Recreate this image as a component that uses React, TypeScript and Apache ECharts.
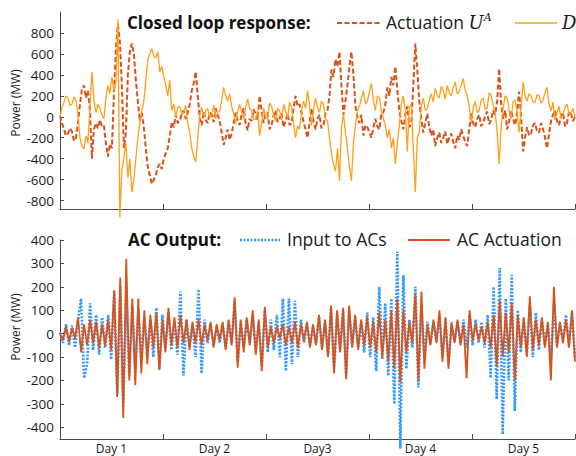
import React, { useEffect, useRef } from "react";
import * as echarts from "echarts";

// ---- data ----
const dayLabels = ["Day 1", "Day 2", "Day3", "Day 4", "Day 5"];
const dayLabelPos = [0.5, 1.5, 2.5, 3.5, 4.5];
const dayTicks = [1, 2, 3, 4, 5];
const topTicks = [-800, -600, -400, -200, 0, 200, 400, 600, 800];
const bottomTicks = [-400, -300, -200, -100, 0, 100, 200, 300, 400];

// Closed loop response (259 samples over 5 days)
const actuationUA = [
  10, -60, -120, -180, -160, -110, -140, -230, -200, -60,
  120, 260, 300, 180, 250, 60, -400, -120, -60, -110,
  -30, -90, -80, -250, -380, -260, -300, 200, 650, 880,
  720, 300, -300, -150, 400, 620, 700, 600, 350, 150,
  -40, 40, -100, -300, -480, -560, -640, -600, -560, -480,
  -450, -500, -400, -350, -300, -180, -50, -100, 20, -60,
  -40, 30, 60, -20, 40, 120, 250, 320, 430, 200,
  -20, -80, 50, -30, -60, 40, 20, -50, 80, 20,
  -40, -150, -270, -200, -120, -220, -160, -60, 40, -40,
  -80, 30, 80, -60, -130, -20, -40, 70, 30, -30,
  200, 60, -60, 30, 40, -120, -80, 10, 60, -50,
  -20, 40, -100, -40, 30, -80, -60, 80, 200, 100,
  120, 40, -50, -120, -200, -60, 80, -40, -120, -20,
  20, -110, -80, 30, 60, 200, 450, 380, 550, 480,
  620, 300, 20, 150, 300, 480, 620, 400, 100, 0,
  -60, 20, -180, -80, -100, -150, -200, -100, -20, -90,
  -120, 30, 40, 120, 280, 200, 380, 300, 480, 250,
  60, -40, -120, 20, 100, -100, -60, 300, 700, 450,
  150, -20, -150, -60, 30, -100, -180, -120, -280, -200,
  -150, -250, -200, -140, -260, -200, -160, -240, -300, -180,
  -220, -120, -180, -240, -280, -120, 40, -60, -100, -20,
  20, -90, -60, 10, 50, -70, -30, 60, 20, 150,
  460, 120, -20, 60, -120, -40, 60, -20, -80, 40,
  240, 0, -330, -200, -100, -180, -160, -80, -60, -140,
  -150, -60, -120, -200, -300, -160, -40, 20, 60, -40,
  -80, 10, 40, -90, -60, 50, 30, -40, 0,
];
const disturbanceD = [
  0, 90, 140, 200, 180, 110, 120, 190, 160, 20,
  -200, -280, -310, -180, -250, 100, 430, 150, 40, 120,
  80, 20, -20, 180, 300, 220, 380, 250, 330, 930,
  -960, -500, -400, -250, -580, -400, -720, -600, -400, -200,
  -50, 60, 150, 350, 550, 600, 650, 580, 560, 620,
  430, 480, 380, 300, 200, 350, 60, 120, 0, 90,
  100, 20, 40, 110, -60, -150, -300, -380, -430, -200,
  20, 90, 0, 60, 80, -10, 30, 110, -20, 40,
  60, 160, 280, 200, 150, 220, 100, 30, -60, 50,
  120, 40, -20, 90, 170, 80, 60, -30, -20, 60,
  -180, -60, 80, 0, -20, 130, 100, 20, -40, 80,
  60, -30, 120, 50, -10, 140, 90, -60, -200, -90,
  -120, 60, 150, 80, 250, 110, -80, 60, 180, 90,
  40, 150, 120, -20, -40, -200, -350, -450, -520, -300,
  -610, -100, 20, -150, -300, -480, -610, -250, -80, 60,
  100, 180, 250, 120, 150, 240, 320, 160, 60, 200,
  180, 60, -20, -80, -200, -120, -300, -200, -450, -250,
  -80, 120, 200, 60, -330, 100, 120, -300, -720, -200,
  -150, 100, 180, 60, 80, 160, 220, 140, 270, 200,
  180, 290, 250, 170, 300, 230, 200, 280, 330, 220,
  240, 300, 365, 250, 200, 100, -60, 80, 150, 40,
  60, 160, 180, 70, 80, 230, 200, 120, 40, -150,
  -450, -100, 80, 200, 180, 60, -20, 140, 160, 40,
  -150, 100, 330, 200, 150, 220, 200, 140, 140, 210,
  200, 130, 160, 230, 280, 120, 60, 140, -30, 40,
  100, -20, 20, 90, 120, 30, 40, 80, 0,
];

// AC output (172 samples over 5 days)
const inputToACs = [
  5, -40, 40, -50, 35, -60, 60, 150, -190, -130,
  130, -70, 80, -90, 70, -60, 80, -110, 180, -260,
  200, -300, 160, -180, 120, -150, 100, -110, 70, -80,
  60, -100, 110, -150, 80, -60, 90, -70, 50, -90,
  180, -180, 60, -50, 40, -100, 190, -170, 60, -40,
  40, -50, 30, -40, 40, -60, 50, -40, 140, -120,
  50, -60, 60, -40, 80, -80, 50, -140, 100, -80,
  60, -70, 80, -100, 150, -160, 150, -130, 140, -100,
  60, -40, 40, -50, 30, -40, 70, -60, 50, -90,
  110, -150, 90, -70, 100, -180, 100, -50, 70, -60,
  50, -80, 90, -100, 70, -160, 200, -110, 130, -180,
  150, -300, 350, -490, 250, -150, 60, -60, 200, -230,
  120, -100, 50, -40, 50, -30, 80, -100, 60, -130,
  40, -30, 50, -40, 60, -60, 80, -50, 60, -40,
  50, -60, 80, -190, 200, -280, 280, -430, 150, -200,
  250, -330, 100, -80, 60, -90, 120, -100, 90, -70,
  60, -50, 40, -120, 130, -50, 40, -30, 80, -50,
  90, -100,
];
const acActuation = [
  0, -25, 30, -35, 25, -20, 70, -80, 40, -50,
  60, -40, 50, -60, 40, -50, 60, -70, 185, -270,
  240, -360, 320, -200, 150, -220, 150, -170, 100, -130,
  80, -60, 90, -155, 60, -80, 110, -50, 70, -60,
  80, -40, 60, -70, 50, -40, 60, -50, 40, -30,
  50, -60, 40, -30, 50, -70, 60, -50, 155, -145,
  60, -80, 70, -50, 100, -90, 60, -160, 115, -60,
  30, -40, 30, -20, 40, -50, 30, -40, 50, -60,
  40, -30, 50, -60, 40, -50, 80, -70, 60, -100,
  120, -170, 100, -80, 110, -195, 120, -60, 80, -70,
  60, -50, 70, -60, 50, -80, 90, -100, 60, -120,
  100, -150, 150, -210, 100, -80, 50, -40, 170, -200,
  180, -150, 40, -50, 60, -40, 100, -120, 70, -150,
  50, -40, 60, -50, 40, -190, 100, -30, 40, -30,
  30, -40, 50, -60, 80, -140, 140, -100, 90, -80,
  130, -200, 80, -60, 70, -100, 160, -70, 60, -50,
  70, -60, 50, -200, 200, -60, 50, -40, 60, -60,
  100, -120,
];

const toPairs = (arr: number[]) => arr.map((v, i) => [(i * 5) / (arr.length - 1), v]);

const FONT = "'Open Sans', 'Noto Sans', sans-serif";
const RED = "#D95319";
const ORANGE = "#FF9F1A";
const BLUE = "#3399FF";
const AXIS = "#4d4d4d";
const TEXT = "#1a1a1a";

function xAxisFor(gridIndex: number, showLabels: boolean) {
  return {
    type: "value",
    gridIndex,
    min: 0,
    max: 5,
    axisLine: { show: true, onZero: false, lineStyle: { color: AXIS, width: 1 } },
    axisTick: { show: true, inside: true, length: 5, customValues: dayTicks, lineStyle: { color: AXIS } },
    axisLabel: showLabels
      ? {
          show: true,
          customValues: dayLabelPos,
          formatter: (v: number) => dayLabels[Math.floor(v)],
          fontSize: 12,
          lineHeight: 12,
          color: TEXT,
          fontFamily: FONT,
          margin: 3,
        }
      : { show: false },
    splitLine: { show: false },
  };
}

function yAxisFor(gridIndex: number, min: number, max: number, ticks: number[]) {
  return {
    type: "value",
    gridIndex,
    min,
    max,
    axisLine: { show: true, onZero: false, lineStyle: { color: AXIS, width: 1 } },
    axisTick: { show: true, inside: true, length: 4, customValues: ticks, lineStyle: { color: AXIS } },
    axisLabel: {
      show: true,
      customValues: ticks,
      fontSize: 13.5,
      color: TEXT,
      fontFamily: FONT,
      margin: 6,
    },
    splitLine: { show: false },
  };
}

export default function App() {
  const ref = useRef<HTMLDivElement>(null);
  useEffect(() => {
    if (!ref.current) return;
    const chart = echarts.init(ref.current, null, { renderer: "svg" });
    const option = {
      animation: false,
      backgroundColor: "#ffffff",
      grid: [
        { left: 60, right: 1, top: 12, height: 197 },
        { left: 60, right: 1, top: 240, height: 199 },
      ],
      xAxis: [xAxisFor(0, false), xAxisFor(1, true)],
      yAxis: [yAxisFor(0, -880, 1000, topTicks), yAxisFor(1, -450, 400, bottomTicks)],
      series: [
        {
          name: "Actuation U^A",
          type: "line",
          xAxisIndex: 0,
          yAxisIndex: 0,
          data: toPairs(actuationUA),
          symbol: "none",
          clip: false,
          lineStyle: { color: RED, width: 2, type: [5, 2.5] },
          z: 2,
        },
        {
          name: "D",
          type: "line",
          xAxisIndex: 0,
          yAxisIndex: 0,
          data: toPairs(disturbanceD),
          symbol: "none",
          clip: false,
          lineStyle: { color: ORANGE, width: 1.3 },
          z: 3,
        },
        {
          name: "Input to ACs",
          type: "line",
          xAxisIndex: 1,
          yAxisIndex: 1,
          data: toPairs(inputToACs),
          symbol: "none",
          clip: false,
          lineStyle: { color: BLUE, width: 2.6, type: [2, 1.5] },
          z: 2,
        },
        {
          name: "AC Actuation",
          type: "line",
          xAxisIndex: 1,
          yAxisIndex: 1,
          data: toPairs(acActuation),
          symbol: "none",
          clip: false,
          lineStyle: { color: RED, width: 1.8 },
          z: 3,
        },
      ],
      graphic: [
        {
          type: "text",
          x: 15,
          y: 103,
          rotation: Math.PI / 2,
          style: { text: "Power (MW)", fontSize: 12, fontFamily: FONT, fill: TEXT, align: "center", verticalAlign: "middle" },
        },
        {
          type: "text",
          x: 15,
          y: 327,
          rotation: Math.PI / 2,
          style: { text: "Power (MW)", fontSize: 12, fontFamily: FONT, fill: TEXT, align: "center", verticalAlign: "middle" },
        },
        // top legend
        {
          type: "text",
          x: 127,
          y: 22,
          style: { text: "Closed loop response:", fontSize: 17, fontWeight: "bold", fontFamily: FONT, fill: "#111", verticalAlign: "middle" },
          z: 10,
        },
        {
          type: "line",
          shape: { x1: 337, y1: 23, x2: 380, y2: 23 },
          style: { stroke: RED, lineWidth: 2, lineDash: [5, 2.5] },
          z: 10,
        },
        {
          type: "text",
          x: 386,
          y: 22,
          style: {
            text: "Actuation {u|U}{a|A}",
            fontSize: 17.5,
            fontFamily: FONT,
            fill: TEXT,
            verticalAlign: "middle",
            rich: {
              u: { fontSize: 18, fontStyle: "italic", fontFamily: "'DejaVu Serif', serif", fill: TEXT },
              a: { fontSize: 11, fontStyle: "italic", fontFamily: "'DejaVu Serif', serif", fill: TEXT, verticalAlign: "top", padding: [0, 0, 10, 0] },
            },
          },
          z: 10,
        },
        {
          type: "line",
          shape: { x1: 515, y1: 23, x2: 557, y2: 23 },
          style: { stroke: ORANGE, lineWidth: 1.5 },
          z: 10,
        },
        {
          type: "text",
          x: 562,
          y: 22,
          style: { text: "D", fontSize: 18, fontStyle: "italic", fontFamily: "'DejaVu Serif', serif", fill: TEXT, verticalAlign: "middle" },
          z: 10,
        },
        // bottom legend
        {
          type: "text",
          x: 128,
          y: 239,
          style: { text: "AC Output:", fontSize: 17, fontWeight: "bold", fontFamily: FONT, fill: "#111", verticalAlign: "middle" },
          z: 10,
        },
        {
          type: "line",
          shape: { x1: 240, y1: 240, x2: 280, y2: 240 },
          style: { stroke: BLUE, lineWidth: 2.6, lineDash: [2, 1.5] },
          z: 10,
        },
        {
          type: "text",
          x: 287,
          y: 239,
          style: { text: "Input to ACs", fontSize: 17.5, fontFamily: FONT, fill: TEXT, verticalAlign: "middle" },
          z: 10,
        },
        {
          type: "line",
          shape: { x1: 408, y1: 240, x2: 450, y2: 240 },
          style: { stroke: RED, lineWidth: 1.8 },
          z: 10,
        },
        {
          type: "text",
          x: 457,
          y: 239,
          style: { text: "AC Actuation", fontSize: 17.5, fontFamily: FONT, fill: TEXT, verticalAlign: "middle" },
          z: 10,
        },
      ],
    };
    chart.setOption(option as any);
    return () => chart.dispose();
  }, []);
  return (
    <div
      ref={ref}
      style={{ position: "fixed", left: 0, top: 0, width: 576, height: 456, background: "#fff" }}
    />
  );
}
